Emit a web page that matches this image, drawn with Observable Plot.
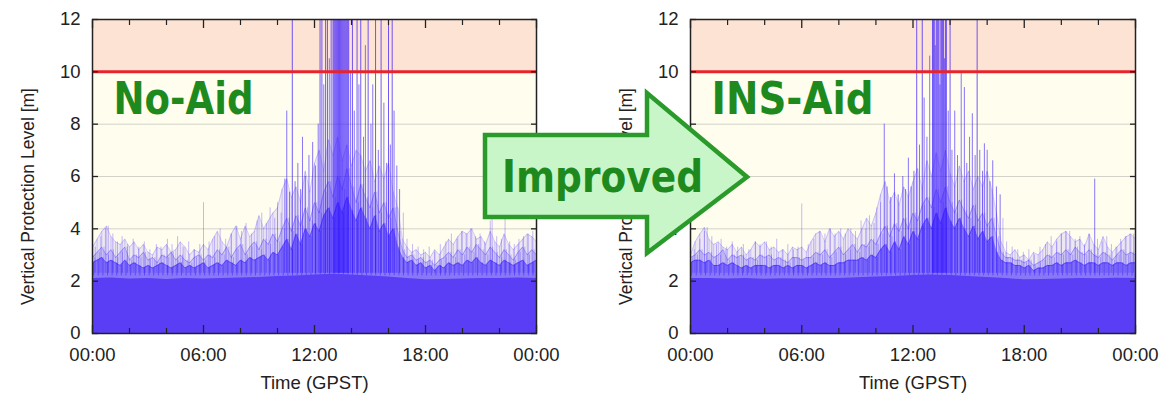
<!DOCTYPE html>
<html><head><meta charset="utf-8">
<script src="https://cdn.jsdelivr.net/npm/d3@7"></script>
<script src="https://cdn.jsdelivr.net/npm/@observablehq/plot@0.6"></script>
<style>
body{margin:0;background:#fff;}
#wrap{position:relative;width:1173px;height:403px;overflow:hidden;}
.panel{position:absolute;top:0;}
#overlay{position:absolute;left:0;top:0;pointer-events:none;}
</style></head><body><div id="wrap"></div>
<script>
// ---------- data (hours of day, metres) ----------
const STEP = 0.25; // sampling of the envelope series, hours
const xTicksMajor = [0, 6, 12, 18, 24];
const xTicksMinor = [2, 4, 8, 10, 14, 16, 20, 22];
const yTicks = [0, 2, 4, 6, 8, 10, 12];
const gridLevels = [2, 4, 6, 8];
const alertLimit = [10];
const bands = [{lo: 0, hi: 10, zone: "ok"}, {lo: 10, hi: 12, zone: "alert"}];
const panelNames = ["No-Aid", "INS-Aid"];
const arrowText = "Improved";
const yLabel = "Vertical Protection Level [m]";
const xLabel = "Time (GPST)";

// hourly floor (solid part)
const floorL = [2.1,2.12,2.08,2.1,2.06,2.1,2.08,2.1,2.12,2.14,2.18,2.2,2.24,2.26,2.24,2.2,2.16,2.1,2.05,2.06,2.08,2.1,2.1,2.12,2.1];
const floorR = [2.1,2.1,2.08,2.1,2.07,2.09,2.08,2.1,2.1,2.13,2.16,2.18,2.22,2.24,2.22,2.18,2.14,2.1,2.05,2.06,2.08,2.1,2.09,2.11,2.1];

// quarter-hour envelopes, No-Aid
const outerL = [3.3,3.6,3.9,4.1, 3.7,3.5,3.4,3.6, 3.3,3.5,3.2,3.4, 3.1,3.0,3.3,3.2, 3.4,3.1,3.2,3.5, 3.3,3.0,3.2,3.1, 3.4,3.2,3.6,3.9, 3.5,3.3,3.8,4.1, 3.6,4.1,3.7,3.9, 4.5,4.0,4.3,4.6, 4.8,5.5,5.9,5.2, 5.6,5.0,6.2,5.4, 6.5,7.0,6.2,7.4, 6.8,7.5,6.6,7.2, 6.4,7.0,6.8,6.2, 6.6,5.8,6.4,5.9, 6.5,5.4,4.8,3.6, 3.3,3.1,3.2,3.0, 3.1,2.9,3.2,3.0, 3.3,3.6,3.4,3.7, 3.9,3.8,4.0,3.6, 3.7,3.4,3.9,3.5, 3.3,3.8,3.4,3.2, 3.4,3.6,3.8,3.7, 3.5];
const midL = [2.9,3.1,3.3,3.0, 3.2,2.9,3.1,3.3, 2.8,3.0,2.9,3.1, 2.8,2.9,2.7,3.0, 2.9,3.1,2.8,3.0, 2.8,2.7,2.9,3.0, 2.8,3.0,2.9,3.2, 3.0,3.3,2.9,3.2, 3.4,3.0,3.3,3.5, 3.2,3.6,3.4,3.8, 3.5,4.0,4.4,3.9, 4.5,4.1,4.8,4.3, 5.0,4.6,5.4,5.8, 5.2,6.0,5.5,6.3, 5.6,5.0,5.7,5.2, 4.8,5.4,4.6,5.0, 4.4,4.8,3.9,3.2, 2.9,3.0,2.8,2.9, 2.7,2.8,2.6,2.8, 2.9,3.1,2.9,3.2, 3.0,3.3,3.1,3.4, 3.2,3.0,3.3,3.1, 2.9,3.2,3.0,2.8, 3.1,3.3,3.0,3.2, 3.0];
const coreL = [2.7,2.8,2.9,2.7, 2.8,2.7,2.6,2.8, 2.6,2.7,2.6,2.5, 2.6,2.5,2.6,2.7, 2.6,2.5,2.6,2.7, 2.5,2.6,2.5,2.6, 2.7,2.5,2.6,2.7, 2.6,2.8,2.7,2.6, 2.8,2.7,2.9,2.8, 2.9,3.0,2.8,3.1, 3.0,3.3,3.6,3.2, 3.8,3.4,4.0,3.7, 4.2,3.9,4.5,4.8, 4.4,5.0,4.6,5.2, 4.7,4.3,4.8,4.4, 4.0,4.5,3.9,4.2, 3.7,4.0,3.3,2.9, 2.7,2.8,2.6,2.7, 2.5,2.6,2.4,2.6, 2.5,2.7,2.6,2.7, 2.6,2.8,2.7,2.9, 2.7,2.6,2.8,2.7, 2.6,2.8,2.7,2.6, 2.7,2.8,2.6,2.7, 2.8];

// quarter-hour envelopes, INS-Aid
const outerR = [3.0,3.5,3.8,4.05, 3.6,3.4,3.5,3.3, 3.2,3.4,3.1,3.3, 3.0,3.2,3.5,3.3, 3.5,3.2,3.3,3.1, 3.2,3.0,3.3,3.2, 3.3,3.1,3.5,3.8, 3.9,3.5,4.0,3.7, 3.9,3.6,4.0,3.8, 3.6,4.0,4.4,4.1, 4.6,5.3,5.8,5.0, 5.4,4.9,5.6,5.2, 5.8,6.3,5.5,6.6, 6.0,6.9,6.2,7.0, 6.1,5.6,6.4,5.8, 6.2,5.5,6.0,5.6, 6.2,5.5,4.6,3.5, 3.1,3.0,3.2,2.9, 3.0,2.8,3.1,3.0, 3.2,3.5,3.3,3.6, 3.8,3.9,3.7,3.5, 3.6,3.3,3.8,3.4, 3.2,3.7,3.3,3.1, 3.3,3.5,3.7,3.8, 3.6];
const midR = [2.9,3.0,3.2,3.0, 3.1,2.9,3.0,3.2, 2.8,3.0,2.9,3.0, 2.8,2.9,2.8,3.0, 2.9,3.0,2.8,2.9, 2.8,2.7,2.9,2.9, 2.8,2.9,2.9,3.1, 3.0,3.2,2.9,3.1, 3.3,3.0,3.2,3.4, 3.1,3.4,3.3,3.6, 3.4,3.8,4.1,3.7, 4.2,3.9,4.4,4.0, 4.6,4.3,4.9,5.2, 4.8,5.5,5.0,5.6, 5.0,4.6,5.1,4.7, 4.4,4.9,4.3,4.6, 4.1,4.4,3.7,3.1, 2.9,2.9,2.8,2.8, 2.7,2.8,2.6,2.7, 2.8,3.0,2.9,3.1, 3.0,3.2,3.0,3.3, 3.1,3.0,3.2,3.0, 2.9,3.1,3.0,2.8, 3.0,3.2,3.0,3.1, 3.0];
const coreR = [2.7,2.8,2.8,2.7, 2.8,2.6,2.6,2.7, 2.6,2.7,2.6,2.5, 2.6,2.5,2.6,2.6, 2.6,2.5,2.6,2.6, 2.5,2.6,2.5,2.6, 2.6,2.5,2.6,2.7, 2.6,2.7,2.6,2.6, 2.7,2.7,2.8,2.8, 2.8,2.9,2.8,3.0, 2.9,3.2,3.4,3.1, 3.5,3.2,3.7,3.4, 3.9,3.6,4.1,4.4, 4.0,4.6,4.2,4.8, 4.3,4.0,4.4,4.0, 3.7,4.1,3.6,3.9, 3.5,3.7,3.1,2.8, 2.7,2.7,2.6,2.6, 2.5,2.6,2.4,2.5, 2.5,2.6,2.6,2.7, 2.6,2.7,2.7,2.8, 2.7,2.6,2.7,2.7, 2.6,2.7,2.7,2.6, 2.7,2.7,2.6,2.7, 2.7];

// individual excursions [hour, peak VPL]; 12.5 = off the top of the chart
const spikesL = [
[0.15,3.3],[0.45,3.7],[0.7,4.0],[0.85,4.1],[1.1,3.8],[1.35,3.5],[1.6,3.7],[1.9,3.4],[2.2,3.6],[2.5,3.3],[2.8,3.5],[3.1,3.2],[3.45,3.4],[3.7,3.3],[4.05,3.6],[4.3,3.4],[4.6,3.7],[4.9,3.3],[5.2,3.5],[5.5,3.2],[5.8,3.4],[6.0,5.0],[6.3,3.5],[6.6,3.7],[6.9,4.0],[7.2,3.6],[7.5,3.8],[7.8,4.1],[8.05,3.9],[8.3,4.2],[8.6,3.8],[8.9,4.3],[9.15,4.6],[9.4,4.2],[9.6,4.8],[9.85,4.4],
[10.0,5.0],[10.2,4.6],[10.4,5.9],[10.5,8.5],[10.65,5.4],[10.8,12.5],[10.95,5.8],[11.1,6.5],[11.25,5.5],[11.35,7.5],[11.5,6.0],[11.7,6.8],[11.9,7.3],[12.05,6.4],[12.2,8.0],[12.3,12.5],[12.4,12.5],[12.5,9.5],[12.6,12.5],[12.7,12.5],[12.8,10.5],[12.9,12.5],
[13.0,12.5],[13.05,12.5],[13.1,12.5],[13.15,12.5],[13.2,12.5],[13.25,12.5],[13.3,12.5],[13.35,12.5],[13.4,12.5],[13.45,12.5],[13.5,12.5],[13.55,12.5],[13.6,12.5],[13.65,12.5],[13.7,12.5],[13.75,12.5],[13.8,12.5],[13.85,12.5],
[13.95,10.0],[14.05,12.5],[14.15,8.5],[14.3,12.5],[14.4,9.5],[14.5,12.5],[14.65,7.5],[14.75,11.0],[14.9,12.5],[15.05,8.0],[15.15,9.5],[15.3,12.5],[15.45,7.0],[15.6,12.5],[15.75,8.8],[15.9,6.5],[16.0,12.5],[16.1,7.2],[16.2,12.5],[16.3,8.5],[16.45,6.4],[16.6,5.5],[16.8,4.6],
[17.0,3.6],[17.3,3.4],[17.6,3.3],[17.9,3.2],[18.2,3.3],[18.5,3.1],[18.8,3.4],[19.1,3.5],[19.4,3.8],[19.7,3.6],[19.95,3.9],[20.2,3.8],[20.45,4.0],[20.7,3.7],[20.95,3.8],[21.2,3.5],[21.5,4.3],[21.6,4.4],[21.85,3.7],[22.1,3.6],[22.3,4.4],[22.55,3.5],[22.8,3.4],[23.05,3.6],[23.3,3.7],[23.55,3.8],[23.8,3.9]
];
const spikesR = [
[0.2,3.2],[0.5,3.6],[0.75,3.9],[0.9,4.05],[1.15,3.7],[1.4,3.4],[1.65,3.6],[1.95,3.3],[2.25,3.5],[2.55,3.3],[2.85,3.4],[3.15,3.2],[3.5,3.5],[3.75,3.4],[4.1,3.5],[4.35,3.3],[4.65,3.6],[4.95,3.2],[5.25,3.4],[5.55,3.2],[5.8,3.3],[6.0,4.95],[6.35,3.4],[6.65,3.6],[6.95,3.9],[7.25,3.8],[7.55,4.0],[7.8,3.8],[8.1,4.0],[8.35,3.8],[8.65,4.0],[8.9,3.9],[9.2,4.3],[9.45,4.0],[9.65,4.5],[9.9,4.2],
[10.05,4.8],[10.25,5.0],[10.45,8.0],[10.6,5.6],[10.8,5.2],[11.0,6.1],[11.2,5.3],[11.45,6.0],[11.6,5.5],[11.75,6.7],[11.9,5.6],[12.05,6.2],[12.2,12.5],[12.35,7.2],[12.5,12.5],[12.6,9.0],[12.75,7.5],[12.9,10.6],
[13.05,12.5],[13.1,12.5],[13.15,12.5],[13.2,11.0],[13.25,12.5],[13.3,12.5],[13.35,12.5],[13.4,12.5],[13.45,9.5],[13.5,12.5],[13.55,12.5],[13.6,12.5],[13.65,12.5],[13.7,10.5],[13.75,12.5],[13.8,12.5],
[13.9,8.5],[14.0,12.5],[14.1,7.0],[14.25,8.5],[14.4,6.8],[14.6,10.0],[14.77,9.4],[14.9,6.5],[15.05,7.5],[15.2,8.4],[15.35,6.8],[15.46,12.5],[15.6,7.0],[15.75,6.2],[15.85,7.25],[16.0,7.0],[16.15,5.8],[16.3,6.6],[16.5,5.6],[16.7,5.3],[16.85,4.4],
[17.05,3.5],[17.35,3.3],[17.65,3.2],[17.95,3.1],[18.25,3.2],[18.55,3.0],[18.85,3.3],[19.15,3.4],[19.45,3.7],[19.75,3.5],[20.0,3.8],[20.25,3.9],[20.45,3.9],[20.75,3.6],[21.0,3.7],[21.25,3.4],[21.5,3.8],[21.8,5.9],[21.95,3.6],[22.2,3.5],[22.45,3.7],[22.7,3.4],[22.95,3.3],[23.2,3.6],[23.45,3.7],[23.7,3.8],[23.9,3.8]
];

// ---------- drawing ----------
const FONT = "'Liberation Sans', Arial, sans-serif";
const LABEL_FONT = "'DejaVu Sans', Verdana, sans-serif";
const GREEN = "#1e8a1e";
const fmtTime = d => String(d % 24).padStart(2, "0") + ":00";

function series(arr, step) { return arr.map((v, i) => ({t: i * step, v})); }

function panel({name, nameLength, floor, outer, mid, core, spikes, width, marginRight}) {
  const fl = series(floor, 1), ou = series(outer, STEP), mi = series(mid, STEP), co = series(core, STEP);
  const sp = spikes.map(([t, v]) => ({t, v}));
  const svg = Plot.plot({
    width, height: 403, marginLeft: 92, marginRight, marginTop: 19, marginBottom: 70,
    style: {fontFamily: FONT, fontSize: "18.5px", color: "#222", background: "transparent", overflow: "visible"},
    x: {domain: [0, 24], axis: null, label: null},
    y: {domain: [0, 12], axis: null, label: null},
    marks: [
      Plot.rect(bands.filter(b => b.zone === "ok"), {y1: "lo", y2: "hi", fill: "#fffdee"}),
      Plot.rect(bands.filter(b => b.zone === "alert"), {y1: "lo", y2: "hi", fill: "#fde3d3"}),
      Plot.ruleY(gridLevels, {stroke: "#d2d2c8", strokeWidth: 1}),
      // light envelope of all traces
      Plot.areaY(ou, {x: "t", y: "v", fill: "#6a58ff", fillOpacity: 0.13, clip: true}),
      Plot.ruleX(ou, {x: "t", y1: 2.3, y2: "v", stroke: "#4a34ff", strokeOpacity: 0.22, strokeWidth: 1, clip: true}),
      Plot.lineY(ou, {x: "t", y: "v", stroke: "#6a58ff", strokeOpacity: 0.35, strokeWidth: 0.8, clip: true}),
      // medium density traces
      Plot.areaY(mi, {x: "t", y: "v", fill: "#4a30ff", fillOpacity: 0.18, clip: true}),
      Plot.ruleX(mi, {x: d => d.t + 0.12, y1: 2.3, y2: "v", stroke: "#3a20ff", strokeOpacity: 0.3, strokeWidth: 1, clip: true}),
      Plot.lineY(mi, {x: "t", y: "v", stroke: "#3a20ff", strokeOpacity: 0.4, strokeWidth: 0.8, clip: true}),
      // individual excursions
      Plot.ruleX(sp, {x: "t", y1: 2.3, y2: "v", stroke: "#3b1cff", strokeOpacity: d => d.v >= 12 ? 0.72 : d.v > 5 ? 0.6 : 0.3, strokeWidth: 1, clip: true}),
      // dense core of traces
      Plot.areaY(co, {x: "t", y: "v", fill: "#3418ff", fillOpacity: 0.45, clip: true}),
      Plot.ruleX(co, {x: d => d.t + 0.06, y1: 2.2, y2: "v", stroke: "#2a0cff", strokeOpacity: 0.45, strokeWidth: 1, clip: true}),
      Plot.lineY(co, {x: "t", y: "v", stroke: "#2a0cff", strokeOpacity: 0.5, strokeWidth: 0.8, clip: true}),
      // solid floor
      Plot.areaY(fl, {x: "t", y: "v", fill: "#5a3ef5", clip: true}),
      Plot.ruleY(alertLimit, {stroke: "#e8232b", strokeWidth: 3}),
      Plot.frame({stroke: "#222", strokeWidth: 1.5}),
      // ticks (inward)
      Plot.axisX(xTicksMajor, {anchor: "bottom", tickSize: -8, fill: "none", stroke: "#222", strokeWidth: 1.3}),
      Plot.axisX(xTicksMinor, {anchor: "bottom", tickSize: -5, fill: "none", stroke: "#222", strokeWidth: 1.2}),
      Plot.axisX(xTicksMajor, {anchor: "top", tickSize: -8, fill: "none", stroke: "#222", strokeWidth: 1.3}),
      Plot.axisX(xTicksMinor, {anchor: "top", tickSize: -5, fill: "none", stroke: "#222", strokeWidth: 1.2}),
      Plot.axisY(yTicks, {anchor: "left", tickSize: -6, fill: "none", stroke: "#222", strokeWidth: 1.3}),
      Plot.axisY(yTicks, {anchor: "right", tickSize: -6, fill: "none", stroke: "#222", strokeWidth: 1.3}),
      // tick labels
      Plot.axisX(xTicksMajor, {anchor: "bottom", tickSize: 0, tickPadding: 14, tickFormat: fmtTime, fill: "#222", fontSize: 18.5}),
      Plot.axisY(yTicks, {anchor: "left", tickSize: 0, tickPadding: 12, fill: "#222", fontSize: 18.5}),
      // axis titles
      Plot.text([yLabel], {frameAnchor: "left", textAnchor: "middle", lineAnchor: "middle", dx: -64, dy: 20, rotate: -90, fontSize: 17.5, fill: "#222"}),
      Plot.text([xLabel], {frameAnchor: "bottom", textAnchor: "middle", dy: 55, fontSize: 18.5, fill: "#222"}),
      // panel name
      Plot.text([name], {frameAnchor: "top-left", dx: 21, dy: 64, textAnchor: "start", lineAnchor: "top",
        fontSize: 43.6, fontWeight: "bold", fontFamily: LABEL_FONT, fill: GREEN})
    ]
  });
  svg.querySelectorAll("text").forEach(t => {
    if (t.textContent === name) { t.setAttribute("textLength", nameLength); t.setAttribute("lengthAdjust", "spacingAndGlyphs"); }
  });
  return svg;
}

const wrap = document.getElementById("wrap");
const left = panel({name: panelNames[0], nameLength: 140, floor: floorL, outer: outerL, mid: midL, core: coreL, spikes: spikesL, width: 560, marginRight: 24});
left.classList.add("panel"); left.style.left = "0px";
wrap.appendChild(left);
const right = panel({name: panelNames[1], nameLength: 162, floor: floorR, outer: outerR, mid: midR, core: coreR, spikes: spikesR, width: 575, marginRight: 38});
right.classList.add("panel"); right.style.left = "598px";
wrap.appendChild(right);

// "Improved" arrow overlay
const A = {x0: 485, bodyTop: 135, bodyBot: 217, headX: 647, headTop: 93, headBot: 253, tipX: 747, tipY: 177};
const ov = d3.create("svg").attr("id", "overlay").attr("width", 1173).attr("height", 403);
ov.append("polygon")
  .attr("points", [[A.x0, A.bodyTop], [A.headX, A.bodyTop], [A.headX, A.headTop], [A.tipX, A.tipY], [A.headX, A.headBot], [A.headX, A.bodyBot], [A.x0, A.bodyBot]].map(p => p.join(",")).join(" "))
  .attr("fill", "#c9f6c9").attr("stroke", "#2a9a2a").attr("stroke-width", 4.5).attr("stroke-linejoin", "miter");
ov.append("text").attr("x", 502).attr("y", 192).text(arrowText)
  .attr("font-family", LABEL_FONT).attr("font-weight", "bold").attr("font-size", 43.6).attr("fill", GREEN)
  .attr("textLength", 201).attr("lengthAdjust", "spacingAndGlyphs");
wrap.appendChild(ov.node());
</script></body></html>
